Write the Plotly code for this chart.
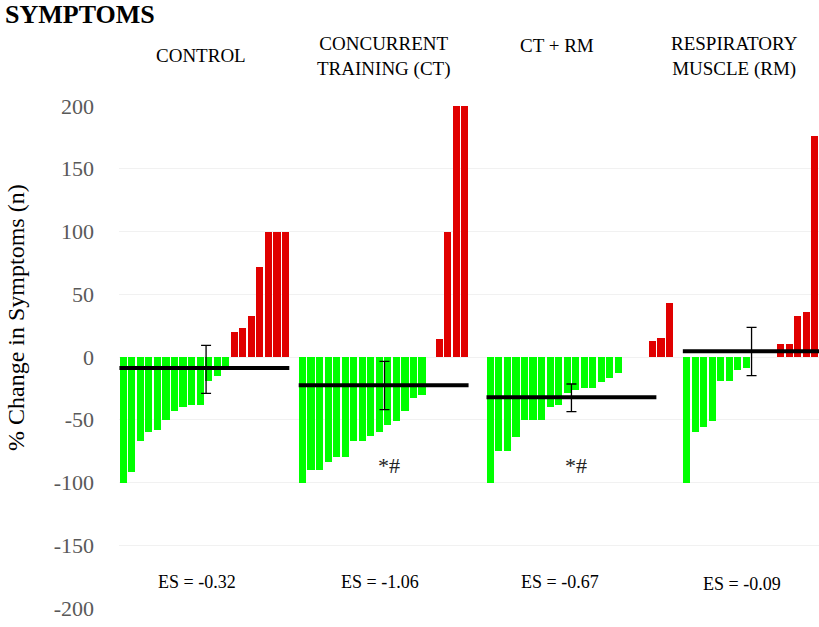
import plotly.graph_objects as go

# ---------------- data ----------------
groups = ["CONTROL", "CONCURRENT<br>TRAINING (CT)", "CT + RM", "RESPIRATORY<br>MUSCLE (RM)"]

control_vals = [-100, -92, -67, -60, -58, -50, -43, -40, -38, -38, -19, -15, -7,
                20, 23, 33, 72, 100, 100, 100]
ct_vals = [-100, -90, -90, -84, -80, -80, -67, -67, -63, -60, -54, -51, -43, -33, -30,
           0, 14, 100, 200, 200]
ctrm_vals = [-100, -75, -75, -64, -50, -50, -50, -40, -38, -29, -26, -25, -25, -20, -17, -13,
             0, 0, 0, 13, 15, 43]
rm_vals = [-100, -60, -56, -51, -19, -19, -10, -9, 0, 0, 0, 10, 10, 33, 36, 176]

group_values = [control_vals, ct_vals, ctrm_vals, rm_vals]
group_gaps = [1, 2, 1]                      # blank categories between groups

means = [-8.8, -22.6, -32.1, 4.5]
err_plus = [18.1, 19.1, 10.6, 19.1]
err_minus = [20.2, 19.4, 11.4, 19.4]
err_index = [9.7, 9.6, 9.5, 7.6]            # position of error bar inside group (in bars)
mean_span = 19.9                            # length of mean line (in bars)

es_labels = ["ES = -0.32", "ES = -1.06", "ES = -0.67", "ES = -0.09"]
sig_marks = ["", "*#", "*#", ""]

y_ticks = [200, 150, 100, 50, 0, -50, -100, -150, -200]

GREEN = "#00FF00"
RED = "#E00000"
SERIF = "Liberation Serif, Times New Roman, serif"

# ---------------- build positions ----------------
starts = []
pos = 0
for gi, vals in enumerate(group_values):
    starts.append(pos)
    pos += len(vals)
    if gi < len(group_gaps):
        pos += group_gaps[gi]
n_slots = pos

fig = go.Figure()

for gi, vals in enumerate(group_values):
    xs = [starts[gi] + i for i in range(len(vals))]
    cols = [GREEN if v < 0 else RED for v in vals]
    fig.add_trace(go.Bar(x=xs, y=vals, width=0.84, marker=dict(color=cols, line=dict(width=0)),
                         showlegend=False, hoverinfo="x+y"))

for gi in range(len(group_values)):
    x0 = starts[gi] - 0.45
    x1 = min(starts[gi] - 0.45 + mean_span, n_slots - 0.5)
    fig.add_trace(go.Scatter(x=[x0, x1], y=[means[gi], means[gi]], mode="lines",
                             line=dict(color="black", width=4), showlegend=False,
                             hoverinfo="skip", cliponaxis=False))
    fig.add_trace(go.Scatter(x=[starts[gi] + err_index[gi]], y=[means[gi]], mode="markers",
                             marker=dict(size=1, color="rgba(0,0,0,0)"),
                             error_y=dict(type="data", symmetric=False,
                                          array=[err_plus[gi]], arrayminus=[err_minus[gi]],
                                          color="black", thickness=1.3, width=5),
                             showlegend=False, hoverinfo="skip"))

# ---------------- annotations ----------------
L, R, T, B = 119, 0, 106, 19
W, H = 819, 627
pw, ph = W - L - R, H - T - B

def px_x(px):
    return (px - L) / pw

def px_y(py):
    return (H - B - py) / ph

ann = []
ann.append(dict(text="<b>SYMPTOMS</b>", x=px_x(3), y=px_y(15), xanchor="left", yanchor="middle",
                font=dict(family=SERIF, size=26, color="black")))
label_px = [(201, 55), (384, 56), (557, 45), (734, 56)]
for gi, g in enumerate(groups):
    ann.append(dict(text=g, x=px_x(label_px[gi][0]), y=px_y(label_px[gi][1]),
                    xanchor="center", yanchor="middle",
                    font=dict(family=SERIF, size=19, color="black")))
es_px = [(197, 582), (380, 582), (560, 582), (742, 584)]
for gi, t in enumerate(es_labels):
    ann.append(dict(text=t, x=px_x(es_px[gi][0]), y=px_y(es_px[gi][1]),
                    xanchor="center", yanchor="middle",
                    font=dict(family=SERIF, size=18, color="black")))
sig_px = [None, (389, 465), (576, 465), None]
for gi, t in enumerate(sig_marks):
    if t:
        ann.append(dict(text=t, x=px_x(sig_px[gi][0]), y=px_y(sig_px[gi][1]),
                        xanchor="center", yanchor="middle",
                        font=dict(family=SERIF, size=22, color="#222222")))
ann.append(dict(text="% Change in Symptoms (n)", x=px_x(16), y=px_y(318), textangle=-90,
                xanchor="center", yanchor="middle",
                font=dict(family=SERIF, size=24, color="black")))
for a in ann:
    a.update(xref="paper", yref="paper", showarrow=False)

fig.update_layout(
    width=W, height=H,
    margin=dict(l=L, r=R, t=T, b=B, pad=0),
    plot_bgcolor="white", paper_bgcolor="white",
    bargap=0, barmode="overlay",
    annotations=ann,
    xaxis=dict(range=[-0.5, n_slots - 0.5], showticklabels=False, showgrid=False,
               zeroline=False, showline=False, ticks=""),
    yaxis=dict(range=[-200, 200], tickvals=y_ticks, ticktext=[str(v) for v in y_ticks],
               showgrid=True, gridcolor="#f1f1f1", gridwidth=1, zeroline=False,
               showline=False, ticks="", ticklabelstandoff=24,
               tickfont=dict(family=SERIF, size=22, color="#595959")),
)

fig.write_html("out.html", config={"displayModeBar": False},
               post_script="document.body.style.margin='0px';document.body.style.overflow='hidden';")
